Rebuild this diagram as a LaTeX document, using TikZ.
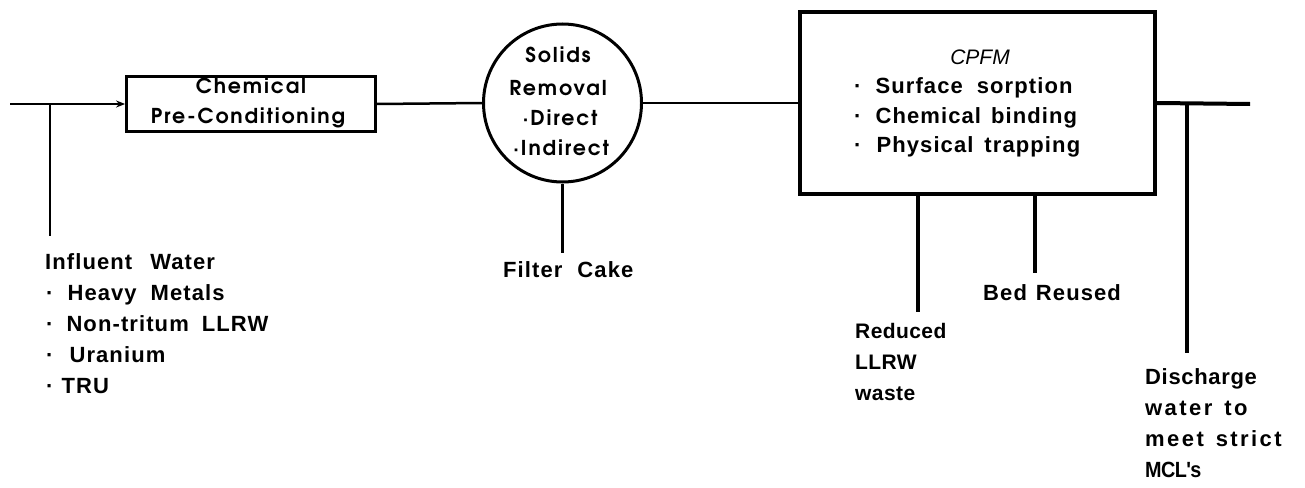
\documentclass[tikz,border=0pt]{standalone}
\usepackage{fontspec}
\setmainfont{Liberation Sans}
\newfontfamily\lab{Liberation Sans}[LetterSpace=5]
\newfontfamily\labn{Liberation Sans}[LetterSpace=2]
\newfontfamily\labd{Liberation Sans}[LetterSpace=3]
\newfontfamily\labw{Liberation Sans}[LetterSpace=11]
\newfontfamily\labt{Liberation Sans}[LetterSpace=-3]
\newfontfamily\adv{TeX Gyre Adventor}[LetterSpace=9]
\usetikzlibrary{arrows.meta}
\newcommand{\gap}[1]{\hspace{#1pt}}
\begin{document}
\begin{tikzpicture}[x=1pt,y=-1pt,
  line/.style={line width=2.5pt},
  thick line/.style={line width=4pt},
  label/.style={anchor=base west,inner sep=0pt,font=\lab\bfseries\fontsize{22}{24}\selectfont},
  nlabel/.style={anchor=base west,inner sep=0pt,font=\labn\bfseries\fontsize{21}{23}\selectfont},
  wlabel/.style={anchor=base west,inner sep=0pt,font=\labw\bfseries\fontsize{22}{24}\selectfont},
  boxtext/.style={anchor=base,inner sep=0pt,font=\adv\bfseries\fontsize{20.5}{22}\selectfont},
  cpfmtext/.style={anchor=base west,inner sep=0pt,font=\lab\bfseries\fontsize{22}{24}\selectfont}]
\useasboundingbox (0,0) rectangle (1305,487);
% process blocks
\node[draw,line width=2.8pt,minimum width=249pt,minimum height=55pt,inner sep=0pt] (chem) at (251,104) {};
\node[draw,circle,line width=3pt,minimum size=158pt,inner sep=0pt] (solids) at (562.5,103) {};
\node[draw,line width=4pt,minimum width=355pt,minimum height=182pt,inner sep=0pt] (cpfm) at (977.5,103) {};
% coordinates
\coordinate (in) at (10,104);
\coordinate (jin) at (50,104);
\coordinate (jinb) at (50,236);
\coordinate (cakeend) at (562.5,253);
\coordinate (out) at (1250,104);
\coordinate (jout) at (1187,104);
\coordinate (joutb) at (1187,353);
\coordinate (redt) at (918,196);
\coordinate (redb) at (918,312);
\coordinate (bedt) at (1035,196);
\coordinate (bedb) at (1035,273);
% connectors
\draw[line,-{Stealth[length=9pt,width=7pt]}] (in) -- (chem.west);
\draw[line] (jin) -- (jinb);
\draw[line] (chem.east) -- (solids.west);
\draw[line] (solids.east) -- (cpfm.west);
\draw[line] (solids.south) -- (cakeend);
\draw[thick line] (cpfm.east) -- (out);
\draw[thick line] (jout) -- (joutb);
\draw[thick line] (redt) -- (redb);
\draw[thick line] (bedt) -- (bedb);
% box texts
\node[boxtext] (t1) at (251,93) {Chemical};
\node[boxtext] (t2) at (248,123) {Pre-Conditioning};
\node[boxtext] (s1) at (558,63) {Solids};
\node[boxtext] (s2) at (558,95) {Removal};
\node[boxtext] (s3) at (560,125) {·Direct};
\node[boxtext] (s4) at (561,155) {·Indirect};
\node[anchor=base,inner sep=0pt,font=\itshape\fontsize{21}{23}\selectfont] (c0) at (980,64) {CPFM};
\node[cpfmtext] (c1) at (854,93) {·\gap{14}Surface\gap{14}sorption};
\node[cpfmtext] (c2) at (854,123) {·\gap{14}Chemical\gap{10}binding};
\node[cpfmtext] (c3) at (854,152) {·\gap{15}Physical\gap{11}trapping};
% labels
\node[label] (l1) at (45,269) {Influent\gap{18}Water};
\node[label] (l2) at (46,300) {·\gap{14}Heavy\gap{14}Metals};
\node[label] (l3) at (46,331) {·\gap{13}Non-tritum\gap{13}LLRW};
\node[label] (l4) at (46,362) {·\gap{16}Uranium};
\node[label] (l5) at (46,393) {·\gap{8}TRU};
\node[label] (fc) at (503,277) {Filter\gap{15}Cake};
\node[label] (br) at (983,300) {Bed\gap{9}Reused};
\node[nlabel] (r1) at (855,338) {Reduced};
\node[nlabel] (r2) at (855,369) {LLRW};
\node[nlabel] (r3) at (855,400) {waste};
\node[anchor=base west,inner sep=0pt,font=\labd\bfseries\fontsize{22}{24}\selectfont] (d1) at (1145,384) {Discharge};
\node[wlabel] (d2) at (1145,415) {water\gap{12}to};
\node[wlabel] (d3) at (1145,446) {meet\gap{12}strict};
\node[anchor=base west,inner sep=0pt,font=\labt\bfseries\fontsize{22}{24}\selectfont] (d4) at (1145,477) {\scalebox{0.9}[1]{MCL's}};
\end{tikzpicture}
\end{document}
